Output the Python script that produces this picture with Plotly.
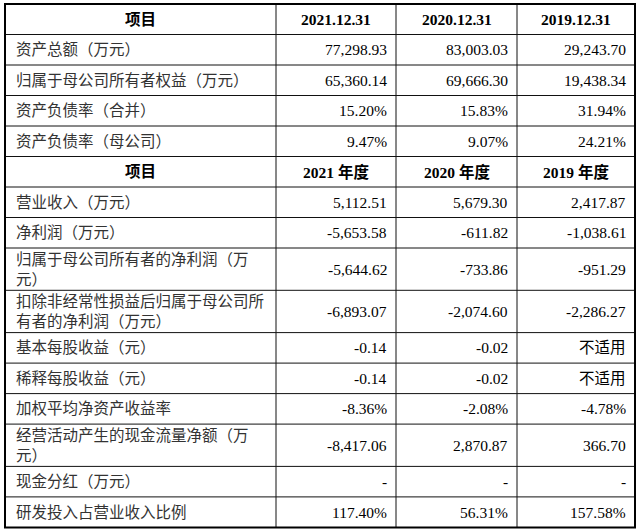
import plotly.graph_objects as go

# 表格内容
header_1 = ["项目", "2021.12.31", "2020.12.31", "2019.12.31"]
balance_items = ["资产总额（万元）", "归属于母公司所有者权益（万元）",
                 "资产负债率（合并）", "资产负债率（母公司）"]
balance_2021 = ["77,298.93", "65,360.14", "15.20%", "9.47%"]
balance_2020 = ["83,003.03", "69,666.30", "15.83%", "9.07%"]
balance_2019 = ["29,243.70", "19,438.34", "31.94%", "24.21%"]

header_2 = ["项目", "2021 年度", "2020 年度", "2019 年度"]
income_items = [
    "营业收入（万元）",
    "净利润（万元）",
    "归属于母公司所有者的净利润（万<br>元）",
    "扣除非经常性损益后归属于母公司所<br>有者的净利润（万元）",
    "基本每股收益（元）",
    "稀释每股收益（元）",
    "加权平均净资产收益率",
    "经营活动产生的现金流量净额（万<br>元）",
    "现金分红（万元）",
    "研发投入占营业收入比例",
]
income_2021 = ["5,112.51", "-5,653.58", "-5,644.62", "-6,893.07", "-0.14",
               "-0.14", "-8.36%", "-8,417.06", "-", "117.40%"]
income_2020 = ["5,679.30", "-611.82", "-733.86", "-2,074.60", "-0.02",
               "-0.02", "-2.08%", "2,870.87", "-", "56.31%"]
income_2019 = ["2,417.87", "-1,038.61", "-951.29", "-2,286.27", "不适用",
               "不适用", "-4.78%", "366.70", "-", "157.58%"]

# 版面参数（像素）
W, H = 640, 531
col_edges = [5, 276, 396, 517, 635]
top = 4
single_h = 30.5
double_h = 42.3
font_stack = "Liberation Serif, 'Noto Sans CJK SC', serif"

rows = [(header_1, True)]
rows += [([a, b, c, d], False) for a, b, c, d in
         zip(balance_items, balance_2021, balance_2020, balance_2019)]
rows += [(header_2, True)]
rows += [([a, b, c, d], False) for a, b, c, d in
         zip(income_items, income_2021, income_2020, income_2019)]

y_edges = [top]
for cells, _ in rows:
    n_lines = cells[0].count("<br>") + 1
    y_edges.append(y_edges[-1] + (single_h if n_lines == 1 else double_h))

fig = go.Figure()

shapes = []
for y in y_edges[1:-1]:
    shapes.append(dict(type="line", x0=col_edges[0], x1=col_edges[-1], y0=y, y1=y,
                       xref="x", yref="y", line=dict(color="#111", width=1)))
for x in col_edges[1:-1]:
    shapes.append(dict(type="line", x0=x, x1=x, y0=y_edges[0], y1=y_edges[-1],
                       xref="x", yref="y", line=dict(color="#111", width=1)))
shapes.append(dict(type="rect", x0=col_edges[0], x1=col_edges[-1],
                   y0=y_edges[0], y1=y_edges[-1], xref="x", yref="y",
                   line=dict(color="#000", width=2)))

annotations = []
for i, (cells, bold) in enumerate(rows):
    yc = (y_edges[i] + y_edges[i + 1]) / 2
    for j, txt in enumerate(cells):
        if bold:
            x = (col_edges[j] + col_edges[j + 1]) / 2
            anchor = "center"
            txt = "<b>" + txt + "</b>"
            color = "#000"
        elif j == 0:
            x = col_edges[0] + 9
            anchor = "left"
            color = "#333"
        else:
            x = col_edges[j + 1] - 7
            anchor = "right"
            color = "#000"
        annotations.append(dict(
            x=x, y=yc, xref="x", yref="y", text=txt, showarrow=False,
            xanchor=anchor, yanchor="middle", align=anchor,
            font=dict(family=font_stack, size=15.5, color=color)))

fig.update_layout(
    width=W, height=H,
    margin=dict(l=0, r=0, t=0, b=0),
    paper_bgcolor="white", plot_bgcolor="white",
    xaxis=dict(range=[0, W], visible=False, fixedrange=True),
    yaxis=dict(range=[H, 0], visible=False, fixedrange=True),
    shapes=shapes,
    annotations=annotations,
    showlegend=False,
)

# 去掉页面默认的 8px 边距，隐藏工具栏
fig.write_html("out.html", config={"displayModeBar": False},
               post_script="document.body.style.margin='0';")
